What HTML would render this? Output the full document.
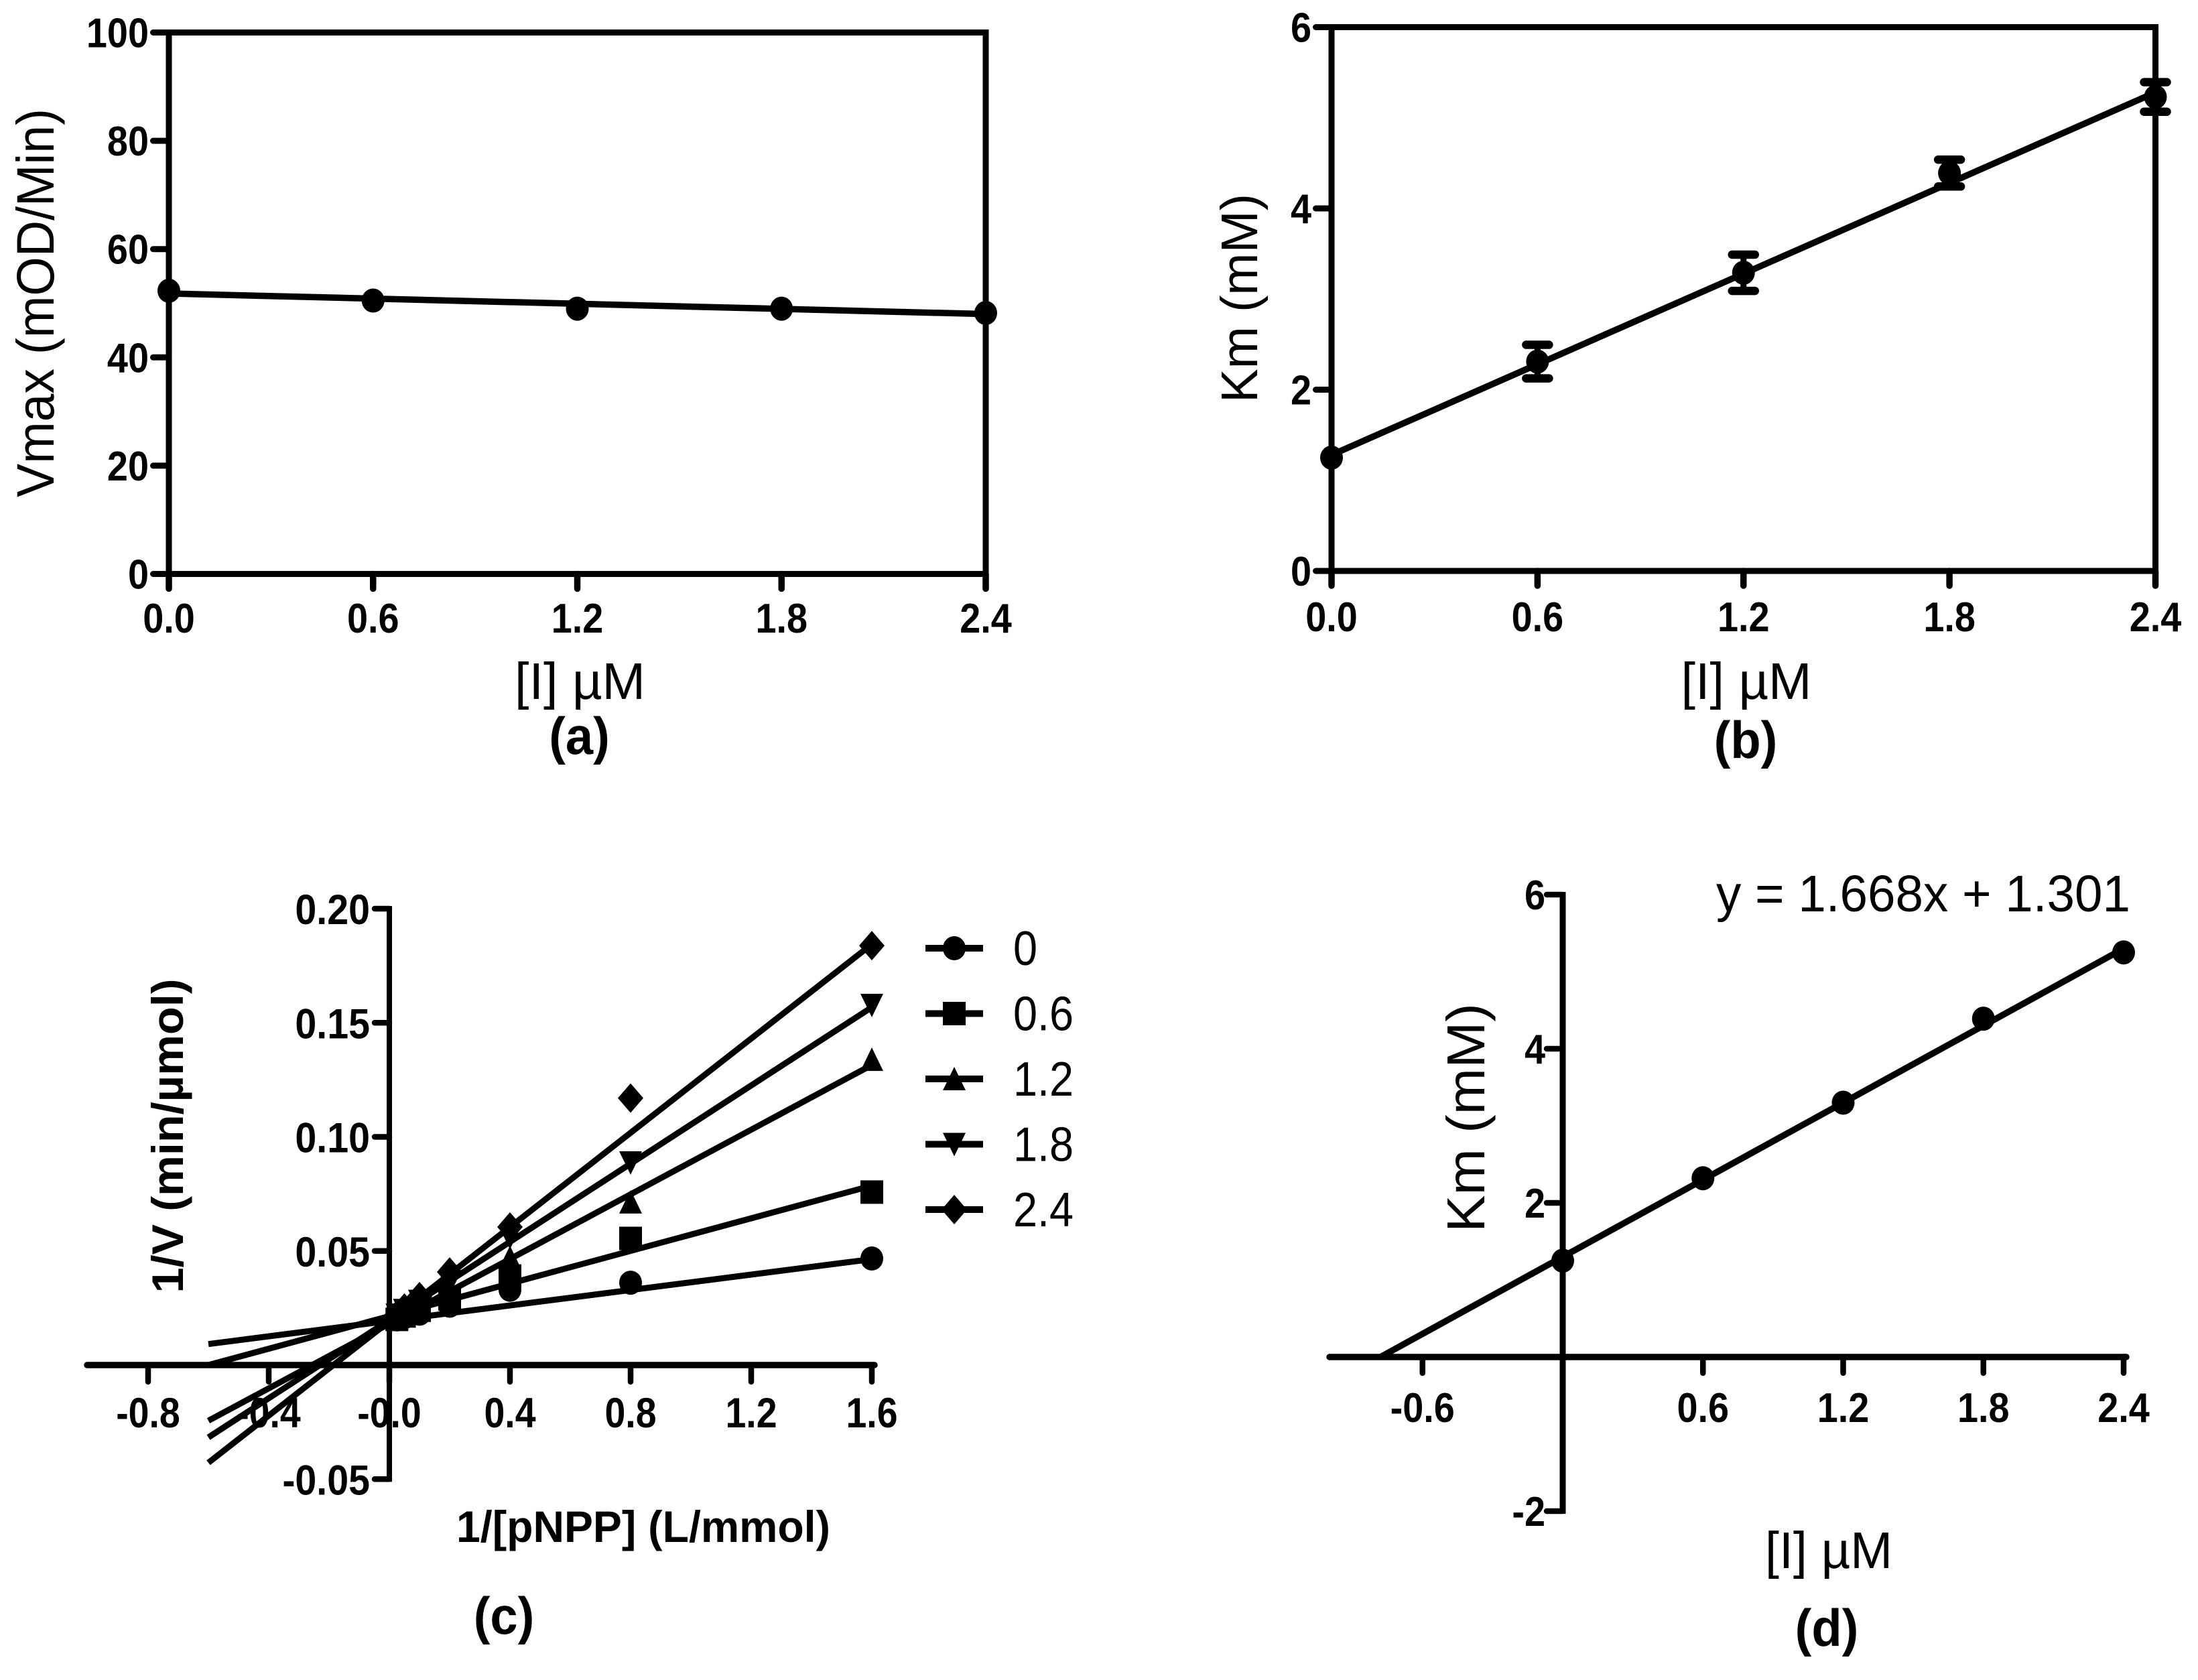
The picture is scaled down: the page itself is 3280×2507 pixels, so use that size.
<!DOCTYPE html>
<html>
<head>
<meta charset="utf-8">
<title>Enzyme inhibition kinetics panels</title>
<style>
html,body{margin:0;padding:0;background:#fff;}
svg{display:block;}
text{font-family:"Liberation Sans",Arial,sans-serif;fill:#000;}
</style>
</head>
<body>
<svg id="figure" xmlns="http://www.w3.org/2000/svg" width="3280" height="2507" viewBox="0 0 3280 2507"></svg>
<script>
// Panel (a)
var aDoses = [0, 0.6, 1.2, 1.8, 2.4];
var aVmax = [52.3, 50.5, 49, 49, 48.2];
var aFitX = [0, 2.4];
var aFitY = [51.8, 48];
var aYTicks = [0, 20, 40, 60, 80, 100];
var aXTicks = [0, 0.6, 1.2, 1.8, 2.4];
var aXLabels = ["0.0", "0.6", "1.2", "1.8", "2.4"];

// Panel (b)
var bDoses = [0, 0.6, 1.2, 1.8, 2.4];
var bKm = [1.25, 2.31, 3.29, 4.39, 5.23];
var bErr = [0, 0.185, 0.2, 0.148, 0.163];
var bFitX = [0, 2.4];
var bFitY = [1.28, 5.28];
var bYTicks = [0, 2, 4, 6];
var bXTicks = [0, 0.6, 1.2, 1.8, 2.4];
var bXLabels = ["0.0", "0.6", "1.2", "1.8", "2.4"];

// Panel (c)
var cSubstrate = [1.6, 0.8, 0.4, 0.2, 0.1, 0.05, 0.025];
var cDoseNames = ["0", "0.6", "1.2", "1.8", "2.4"];
var cSeries0 = [0.0467, 0.0361, 0.033, 0.026, 0.0225, 0.021, 0.02];
var cSeries06 = [0.0758, 0.0555, 0.039, 0.029, 0.024, 0.0215, 0.02];
var cSeries12 = [0.1339, 0.0714, 0.047, 0.033, 0.026, 0.023, 0.021];
var cSeries18 = [0.1577, 0.0887, 0.056, 0.036, 0.028, 0.024, 0.022];
var cSeries24 = [0.1838, 0.117, 0.0605, 0.0408, 0.03, 0.025, 0.022];
var cFitX = [-0.6, 1.6];
var cFit0 = [0.0092, 0.0464];
var cFit06 = [0, 0.0786];
var cFit12 = [-0.0244, 0.1315];
var cFit18 = [-0.0317, 0.1568];
var cFit24 = [-0.0428, 0.1844];
var cYTicks = [-0.05, 0, 0.05, 0.10, 0.15, 0.20];
var cYLabels = ["-0.05", "", "0.05", "0.10", "0.15", "0.20"];
var cXTicks = [-0.8, -0.4, 0, 0.4, 0.8, 1.2, 1.6];
var cXLabels = ["-0.8", "-0.4", "-0.0", "0.4", "0.8", "1.2", "1.6"];

// Panel (d)
var dDoses = [0, 0.6, 1.2, 1.8, 2.4];
var dKm = [1.25, 2.32, 3.3, 4.39, 5.25];
var dFitX = [-0.78, 2.4];
var dFitY = [0, 5.3];
var dYTicks = [-2, 0, 2, 4, 6];
var dYLabels = ["-2", "", "2", "4", "6"];
var dXTicks = [-0.6, 0, 0.6, 1.2, 1.8, 2.4];
var dXLabels = ["-0.6", "", "0.6", "1.2", "1.8", "2.4"];

var NS = "http://www.w3.org/2000/svg";
var root = document.getElementById("figure");

function mk(parent, tag, name, attrs) {
  var el = document.createElementNS(NS, tag);
  
  
  for (var k in attrs) { el.setAttribute(k, attrs[k]); }
  parent.appendChild(el);
  return el;
}
function scale(d0, d1, r0, r1) {
  return function (v) { return r0 + (v - d0) * (r1 - r0) / (d1 - d0); };
}
function seg(parent, name, x1, y1, x2, y2, w, cap) {
  return mk(parent, "line", name, {x1: x1, y1: y1, x2: x2, y2: y2, stroke: "#000", "stroke-width": w, "stroke-linecap": cap || "butt"});
}
function txt(parent, name, s, x, y, size, opts) {
  opts = opts || {};
  var a = {x: x, y: y, "font-size": size, "text-anchor": opts.anchor || "middle"};
  if (opts.bold) { a["font-weight"] = 700; }
  if (opts.len) { a.textLength = opts.len; a.lengthAdjust = "spacingAndGlyphs"; }
  if (opts.rot) { a.transform = "rotate(-90 " + x + " " + y + ")"; }
  var t = mk(parent, "text", name, a);
  t.textContent = s;
  if (opts.sx) {
    var natural = t.getComputedTextLength();
    t.setAttribute("textLength", natural * opts.sx);
    t.setAttribute("lengthAdjust", "spacingAndGlyphs");
  }
  return t;
}
function marker(parent, name, kind, x, y) {
  if (kind === "circle") { return mk(parent, "ellipse", name, {cx: x, cy: y, rx: 17, ry: 18, fill: "#000"}); }
  if (kind === "square") { return mk(parent, "rect", name, {x: x - 17, y: y - 17.5, width: 34, height: 35, fill: "#000"}); }
  var p;
  if (kind === "up") { p = [[x, y - 18], [x + 17, y + 17], [x - 17, y + 17]]; }
  if (kind === "down") { p = [[x - 17, y - 17], [x + 17, y - 17], [x, y + 18]]; }
  if (kind === "diamond") { p = [[x, y - 22], [x + 19, y], [x, y + 22], [x - 19, y]]; }
  return mk(parent, "polygon", name, {points: p.map(function (q) { return q.join(","); }).join(" "), fill: "#000"});
}

/* ---------- Panel a ---------- */
(function () {
  var g = mk(root, "g", "panel-a-vmax", {});
  var X = scale(0, 2.4, 252, 1471);
  var Y = scale(0, 100, 856.5, 48.5);
  seg(g, "plot-frame-top", X(0), Y(100), X(2.4) + 4.5, Y(100), 9);
  seg(g, "plot-frame-right", X(2.4), Y(100), X(2.4), Y(0), 9);
  seg(g, "y-axis", X(0), Y(100) - 4.5, X(0), Y(0), 9);
  seg(g, "x-axis", X(0), Y(0), X(2.4), Y(0), 9);
  aYTicks.forEach(function (v) {
    seg(g, "y-tick", X(0) - 23.5, Y(v), X(0), Y(v), 9, "round");
    txt(g, "y-tick-label", String(v), 222, Y(v) + 22, 62, {anchor: "end", bold: true, sx: 0.9});
  });
  aXTicks.forEach(function (v, i) {
    seg(g, "x-tick", X(v), Y(0), X(v), Y(0) + 22, 9.5, "round");
    txt(g, "x-tick-label", aXLabels[i], X(v), 944, 62, {bold: true, sx: 0.9});
  });
  seg(g, "fit-line", X(aFitX[0]), Y(aFitY[0]), X(aFitX[1]), Y(aFitY[1]), 9.5);
  aDoses.forEach(function (d, i) {
    marker(g, "vmax-point", "circle", X(d), Y(aVmax[i]));
  });
  txt(g, "y-axis-title", "Vmax (mOD/Min)", 80, 452, 79, {rot: true, len: 580});
  txt(g, "x-axis-title", "[I] µM", 865.5, 1043, 77, {len: 195});
  txt(g, "panel-label-a", "(a)", 864.5, 1125, 78, {bold: true, sx: 0.95});
})();

/* ---------- Panel b ---------- */
(function () {
  var g = mk(root, "g", "panel-b-km", {});
  var X = scale(0, 2.4, 1987, 3216.5);
  var Y = scale(0, 6, 852, 40.5);
  seg(g, "plot-frame-top", X(0), Y(6), X(2.4) + 4.5, Y(6), 9);
  seg(g, "plot-frame-right", X(2.4), Y(6), X(2.4), Y(0), 9);
  seg(g, "y-axis", X(0), Y(6) - 4.5, X(0), Y(0), 9);
  seg(g, "x-axis", X(0), Y(0), X(2.4), Y(0), 9);
  bYTicks.forEach(function (v) {
    seg(g, "y-tick", X(0) - 23.5, Y(v), X(0), Y(v), 9, "round");
    txt(g, "y-tick-label", String(v), 1957, Y(v) + 22, 62, {anchor: "end", bold: true, sx: 0.9});
  });
  bXTicks.forEach(function (v, i) {
    seg(g, "x-tick", X(v), Y(0), X(v), Y(0) + 22, 9.5, "round");
    txt(g, "x-tick-label", bXLabels[i], X(v), 942, 62, {bold: true, sx: 0.9});
  });
  seg(g, "fit-line", X(bFitX[0]), Y(bFitY[0]), X(bFitX[1]), Y(bFitY[1]), 9.5);
  bDoses.forEach(function (d, i) {
    var x = X(d), y = Y(bKm[i]), e = bErr[i];
    if (e > 0) {
      seg(g, "error-bar-stem", x, Y(bKm[i] + e), x, Y(bKm[i] - e), 9);
      seg(g, "error-bar-cap-top", x - 17, Y(bKm[i] + e), x + 17, Y(bKm[i] + e), 12.5, "round");
      seg(g, "error-bar-cap-bottom", x - 17, Y(bKm[i] - e), x + 17, Y(bKm[i] - e), 12.5, "round");
    }
    marker(g, "km-point", "circle", x, y);
  });
  txt(g, "y-axis-title", "Km (mM)", 1876, 445, 77, {rot: true, len: 312});
  txt(g, "x-axis-title", "[I] µM", 2606, 1043, 77, {len: 195});
  txt(g, "panel-label-b", "(b)", 2605, 1131, 78, {bold: true, sx: 0.95});
})();

/* ---------- Panel c ---------- */
(function () {
  var g = mk(root, "g", "panel-c-lineweaver-burk", {});
  var X = scale(0, 1.6, 581, 1301);
  var Y = scale(0, 0.2, 2037, 1356);
  seg(g, "y-axis", X(0), Y(0.2) - 4, X(0), Y(-0.05) + 4, 8);
  seg(g, "x-axis", 130, Y(0), X(1.6) + 4, Y(0), 9.5, "round");
  cYTicks.forEach(function (v, i) {
    seg(g, "y-tick", X(0) - 22, Y(v), X(0), Y(v), 8.5, "round");
    if (cYLabels[i]) { txt(g, "y-tick-label", cYLabels[i], 552, Y(v) + 23, 63, {anchor: "end", bold: true, sx: 0.91}); }
  });
  cXTicks.forEach(function (v, i) {
    seg(g, "x-tick", X(v), Y(0), X(v), Y(0) + 25, 8.5, "round");
    txt(g, "x-tick-label", cXLabels[i], X(v), 2130, 63, {bold: true, sx: 0.88});
  });
  var kinds = ["circle", "square", "up", "down", "diamond"];
  var allVals = [cSeries0, cSeries06, cSeries12, cSeries18, cSeries24];
  var allFits = [cFit0, cFit06, cFit12, cFit18, cFit24];
  var legendY = scale(0, 4, 1415, 1805);
  kinds.forEach(function (kind, s) {
    var sg = mk(g, "g", "series-dose-" + cDoseNames[s], {});
    seg(sg, "series-fit-line", X(cFitX[0]), Y(allFits[s][0]), X(cFitX[1]), Y(allFits[s][1]), 9);
    cSubstrate.forEach(function (x, i) {
      marker(sg, "series-point", kind, X(x), Y(allVals[s][i]));
    });
    var ly = legendY(s);
    seg(g, "legend-line", 1381, ly, 1467, ly, 10);
    marker(g, "legend-marker", kind, 1424, ly);
    txt(g, "legend-label", cDoseNames[s], 1512, ly + 25, 72, {anchor: "start", sx: 0.9});
  });
  txt(g, "y-axis-title", "1/V  (min/µmol)", 273, 1695, 66, {rot: true, bold: true, len: 469});
  txt(g, "x-axis-title", "1/[pNPP] (L/mmol)", 960, 2301, 66, {bold: true, len: 558});
  txt(g, "panel-label-c", "(c)", 752, 2438, 78, {bold: true, sx: 0.95});
})();

/* ---------- Panel d ---------- */
(function () {
  var g = mk(root, "g", "panel-d-km-replot", {});
  var X = scale(0, 2.4, 2332, 3169);
  var Y = scale(0, 6, 2025, 1335);
  seg(g, "y-axis", X(0), Y(6) - 4, X(0), Y(-2) + 4, 9);
  seg(g, "x-axis", 1984, Y(0), X(2.4) + 4, Y(0), 9.5, "round");
  dYTicks.forEach(function (v, i) {
    seg(g, "y-tick", X(0) - 24, Y(v), X(0), Y(v), 8.5, "round");
    if (dYLabels[i]) { txt(g, "y-tick-label", dYLabels[i], 2306, Y(v) + 22, 62, {anchor: "end", bold: true, sx: 0.9}); }
  });
  dXTicks.forEach(function (v, i) {
    seg(g, "x-tick", X(v), Y(0), X(v), Y(0) + 24, 8.5, "round");
    if (dXLabels[i]) { txt(g, "x-tick-label", dXLabels[i], X(v), 2122, 62, {bold: true, sx: 0.9}); }
  });
  seg(g, "fit-line", X(dFitX[0]), Y(dFitY[0]), X(dFitX[1]), Y(dFitY[1]), 9.5);
  dDoses.forEach(function (d, i) {
    marker(g, "km-point", "circle", X(d), Y(dKm[i]));
  });
  txt(g, "y-axis-title", "Km  (mM)", 2215, 1668, 80, {rot: true, len: 342});
  txt(g, "x-axis-title", "[I] µM", 2729, 2340, 77, {len: 190});
  txt(g, "panel-label-d", "(d)", 2726, 2456, 78, {bold: true, sx: 0.95});
  txt(g, "fit-equation", "y = 1.668x + 1.301", 2870, 1360, 77, {len: 618});
})();
</script>
</body>
</html>
